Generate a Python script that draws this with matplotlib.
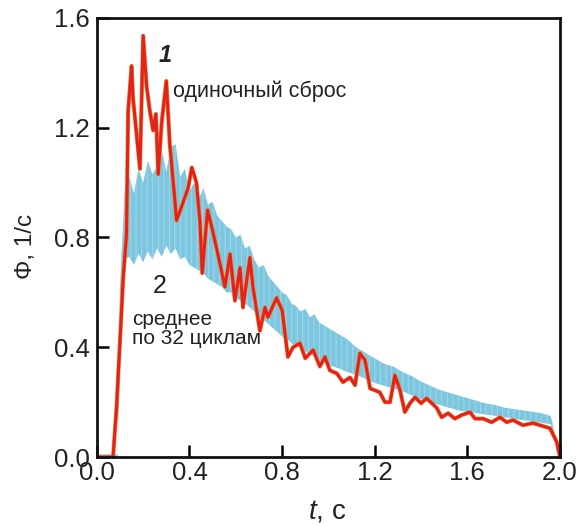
import matplotlib
matplotlib.use("Agg")
import matplotlib.pyplot as plt
import matplotlib.patheffects as pe

plt.rcParams['font.family'] = ['Liberation Sans', 'DejaVu Sans']
plt.rcParams['mathtext.fontset'] = 'custom'
plt.rcParams['mathtext.it'] = 'Liberation Sans:italic'
plt.rcParams['mathtext.rm'] = 'Liberation Sans'
plt.rcParams['hatch.linewidth'] = 0.7

# curve 1: single reset
red_t = [0.0, 0.07, 0.085, 0.10, 0.114, 0.128, 0.135, 0.15, 0.156, 0.171,
         0.186, 0.20, 0.215, 0.229, 0.243, 0.255, 0.265, 0.28, 0.30, 0.315,
         0.337, 0.344, 0.365, 0.394, 0.41, 0.43, 0.445, 0.455, 0.478, 0.50,
         0.525, 0.553, 0.575, 0.596, 0.618, 0.631, 0.661, 0.674, 0.704, 0.726,
         0.739, 0.776, 0.80, 0.825, 0.847, 0.877, 0.90, 0.934, 0.963, 0.985,
         1.006, 1.036, 1.063, 1.093, 1.115, 1.136, 1.158, 1.18, 1.222, 1.244,
         1.266, 1.287, 1.309, 1.33, 1.352, 1.374, 1.40, 1.424, 1.467, 1.489,
         1.517, 1.546, 1.575, 1.611, 1.633, 1.668, 1.705, 1.741, 1.77, 1.797,
         1.84, 1.883, 1.913, 1.957, 1.986, 2.0]
red_y = [0.0, 0.0, 0.18, 0.425, 0.655, 0.81, 1.26, 1.425, 1.31, 1.18,
         1.05, 1.535, 1.35, 1.26, 1.19, 1.25, 1.03, 1.22, 1.37, 1.14,
         0.935, 0.862, 0.91, 0.98, 1.055, 1.0, 0.86, 0.67, 0.90, 0.825,
         0.73, 0.62, 0.74, 0.57, 0.69, 0.545, 0.727, 0.62, 0.46, 0.545,
         0.51, 0.58, 0.535, 0.365, 0.40, 0.415, 0.36, 0.39, 0.33, 0.365,
         0.316, 0.305, 0.273, 0.29, 0.262, 0.378, 0.353, 0.25, 0.236, 0.20,
         0.20, 0.298, 0.244, 0.164, 0.196, 0.218, 0.196, 0.214, 0.18, 0.145,
         0.16, 0.14, 0.153, 0.164, 0.14, 0.14, 0.127, 0.145, 0.127, 0.135,
         0.116, 0.124, 0.116, 0.105, 0.055, 0.0]

# curve 2: average over 32 cycles, drawn as band between its envelopes
blue_t = [0.0, 0.09, 0.10, 0.12, 0.14, 0.16, 0.18, 0.20, 0.22, 0.24,
          0.26, 0.28, 0.30, 0.32, 0.34, 0.36, 0.38, 0.40, 0.42, 0.44,
          0.46, 0.48, 0.50, 0.52, 0.54, 0.56, 0.58, 0.60, 0.62, 0.64,
          0.66, 0.68, 0.70, 0.72, 0.74, 0.76, 0.78, 0.80, 0.82, 0.84,
          0.86, 0.88, 0.90, 0.92, 0.94, 0.96, 0.98, 1.00, 1.04, 1.08,
          1.12, 1.16, 1.20, 1.24, 1.28, 1.32, 1.36, 1.40, 1.44, 1.48,
          1.52, 1.56, 1.60, 1.64, 1.68, 1.72, 1.76, 1.80, 1.84, 1.88,
          1.92, 1.96, 1.98, 1.995]
blue_lo = [0.0, 0.0, 0.35, 0.72, 0.73, 0.70, 0.74, 0.71, 0.75, 0.72,
           0.76, 0.73, 0.77, 0.74, 0.76, 0.72, 0.73, 0.70, 0.69, 0.68,
           0.67, 0.65, 0.64, 0.63, 0.62, 0.60, 0.60, 0.58, 0.57, 0.56,
           0.545, 0.53, 0.51, 0.50, 0.485, 0.47, 0.455, 0.44, 0.43, 0.415,
           0.405, 0.395, 0.385, 0.375, 0.365, 0.355, 0.345, 0.335, 0.325, 0.31,
           0.30, 0.285, 0.27, 0.26, 0.25, 0.24, 0.225, 0.21, 0.20, 0.19,
           0.18, 0.17, 0.165, 0.16, 0.155, 0.15, 0.145, 0.14, 0.135, 0.13,
           0.125, 0.12, 0.05, 0.0]
blue_hi = [0.01, 0.01, 0.62, 0.97, 1.02, 0.96, 1.05, 1.00, 1.08, 1.03,
           1.06, 1.12, 1.04, 1.13, 1.14, 1.02, 1.05, 0.97, 1.00, 0.94,
           0.98, 0.92, 0.93, 0.88, 0.86, 0.84, 0.83, 0.80, 0.81, 0.76,
           0.77, 0.72, 0.69, 0.70, 0.66, 0.64, 0.62, 0.60, 0.59, 0.56,
           0.55, 0.53, 0.54, 0.51, 0.52, 0.49, 0.48, 0.47, 0.45, 0.43,
           0.40, 0.38, 0.36, 0.34, 0.33, 0.31, 0.295, 0.275, 0.26, 0.245,
           0.235, 0.225, 0.215, 0.205, 0.195, 0.19, 0.18, 0.175, 0.17, 0.165,
           0.16, 0.15, 0.08, 0.01]

x_ticks = [0.0, 0.4, 0.8, 1.2, 1.6, 2.0]
y_ticks = [0.0, 0.4, 0.8, 1.2, 1.6]

fig = plt.figure(figsize=(5.87, 5.26), dpi=100)
ax = fig.add_axes([0.165, 0.131, 0.789, 0.835])

ax.fill_between(blue_t, blue_lo, blue_hi, facecolor='#7cc7df',
                edgecolor='#a2d7e9', hatch='|||', linewidth=0)
ax.plot(red_t, red_y, color='#e3231b', lw=2.2, solid_joinstyle='round',
        path_effects=[pe.Stroke(linewidth=3.0, foreground='#f09040'), pe.Normal()])

ax.set_xlim(0, 2.0)
ax.set_ylim(0, 1.6)
ax.set_xticks(x_ticks)
ax.set_yticks(y_ticks)
ax.set_xticklabels([f'{v:.1f}' for v in x_ticks])
ax.set_yticklabels([f'{v:.1f}' for v in y_ticks])
ax.tick_params(direction='in', length=8.5, width=1.8, labelsize=18.5,
               labelcolor='#222222')
ax.tick_params(axis='x', pad=3)
ax.tick_params(axis='y', pad=5)
for s in ax.spines.values():
    s.set_linewidth(2.0)
    s.set_color('#111111')

ax.set_xlabel(r'$\mathit{t}$, с', fontsize=20, color='#222222')
ax.set_ylabel('Φ, 1/с', fontsize=17.5, color='#222222')
ax.xaxis.set_label_coords(0.498, -0.095)
ax.yaxis.set_label_coords(-0.13, 0.48)

ax.text(0.294, 1.462, '1', fontsize=17, fontweight='bold', fontstyle='italic',
        ha='center', va='center', color='#222222')
ax.text(0.33, 1.331, 'одиночный сброс', fontsize=15.5, ha='left', va='center',
        color='#222222')
ax.text(0.272, 0.625, '2', fontsize=18, ha='center', va='center', color='#222222')
ax.text(0.151, 0.467, 'среднее\nпо 32 циклам', fontsize=15, ha='left',
        va='center', linespacing=1.0, color='#222222')

fig.savefig('out.png', dpi=100)
